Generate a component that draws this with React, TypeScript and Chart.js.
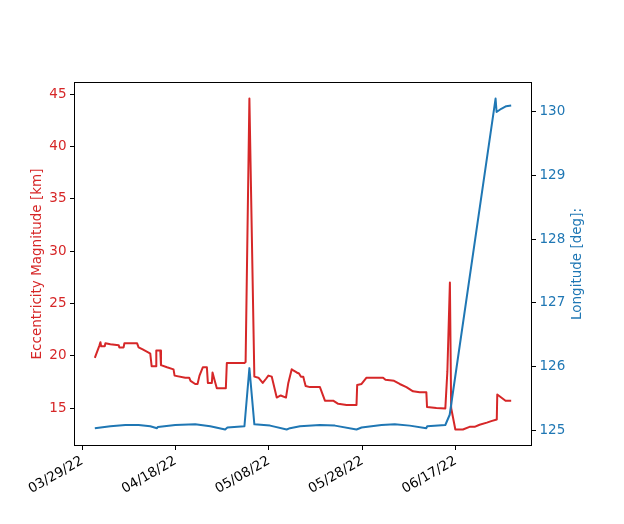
import React, { useEffect, useRef } from 'react';
import { Chart, registerables } from 'chart.js';

Chart.register(...registerables);
Chart.defaults.font.family = 'DejaVu Sans';

// eccentricity magnitude [km] (left axis)
const eccTimes = [
  '2022-03-31T17:00Z', '2022-04-01T17:00Z', '2022-04-01T22:00Z', '2022-04-02T01:30Z', '2022-04-02T20:00Z',
  '2022-04-02T23:30Z', '2022-04-04T01:00Z', '2022-04-05T20:00Z', '2022-04-05T23:00Z', '2022-04-06T21:00Z',
  '2022-04-07T01:00Z', '2022-04-09T18:00Z', '2022-04-10T02:00Z', '2022-04-10T23:00Z', '2022-04-12T05:30Z',
  '2022-04-12T14:00Z', '2022-04-12T21:00Z', '2022-04-13T19:30Z', '2022-04-13T21:00Z', '2022-04-14T17:30Z',
  '2022-04-14T21:00Z', '2022-04-16T04:00Z', '2022-04-17T13:30Z', '2022-04-17T19:00Z', '2022-04-20T02:00Z',
  '2022-04-20T22:00Z', '2022-04-21T05:00Z', '2022-04-22T05:00Z', '2022-04-22T17:00Z', '2022-04-23T03:00Z',
  '2022-04-23T20:30Z', '2022-04-24T17:00Z', '2022-04-24T22:00Z', '2022-04-25T18:30Z', '2022-04-25T22:00Z',
  '2022-04-26T06:30Z', '2022-04-26T20:00Z', '2022-04-28T18:30Z', '2022-04-28T23:30Z', '2022-05-02T18:00Z',
  '2022-05-03T00:00Z', '2022-05-03T19:30Z', '2022-05-04T21:00Z', '2022-05-05T18:00Z', '2022-05-06T16:00Z',
  '2022-05-07T09:00Z', '2022-05-07T21:00Z', '2022-05-08T14:30Z', '2022-05-09T16:00Z', '2022-05-10T12:30Z',
  '2022-05-11T15:30Z', '2022-05-12T03:30Z', '2022-05-12T21:00Z', '2022-05-13T05:00Z', '2022-05-13T22:30Z',
  '2022-05-14T10:30Z', '2022-05-14T20:30Z', '2022-05-15T08:30Z', '2022-05-15T13:30Z', '2022-05-15T20:30Z',
  '2022-05-16T18:30Z', '2022-05-18T22:00Z', '2022-05-19T23:45Z', '2022-05-21T18:00Z', '2022-05-22T20:00Z',
  '2022-05-24T15:00Z', '2022-05-26T18:00Z', '2022-05-26T21:30Z', '2022-05-27T20:00Z', '2022-05-28T21:30Z',
  '2022-06-01T10:30Z', '2022-06-01T23:00Z', '2022-06-03T19:00Z', '2022-06-05T00:00Z', '2022-06-06T10:30Z',
  '2022-06-07T20:30Z', '2022-06-09T07:00Z', '2022-06-10T17:00Z', '2022-06-10T20:30Z', '2022-06-12T20:30Z',
  '2022-06-14T18:30Z', '2022-06-15T05:00Z', '2022-06-15T18:00Z', '2022-06-16T00:30Z', '2022-06-16T22:00Z',
  '2022-06-18T13:00Z', '2022-06-19T23:00Z', '2022-06-21T01:00Z', '2022-06-22T02:30Z', '2022-06-23T16:00Z',
  '2022-06-24T14:30Z', '2022-06-25T19:00Z', '2022-06-25T21:30Z', '2022-06-27T16:00Z', '2022-06-28T21:00Z',
];
const eccValues = [
  19.8, 21.0, 21.3, 20.9, 20.9,
  21.2, 21.1, 21.0, 20.8, 20.8,
  21.2, 21.2, 20.8, 20.6, 20.3,
  20.2, 19.0, 19.0, 20.5, 20.5,
  19.1, 18.9, 18.7, 18.1, 17.9,
  17.9, 17.6, 17.3, 17.3, 18.1,
  18.9, 18.9, 17.4, 17.4, 18.4,
  17.8, 16.9, 16.9, 19.3, 19.3,
  19.4, 44.6, 18.0, 17.9, 17.4,
  17.8, 18.1, 18.0, 16.0, 16.2,
  16.0, 17.4, 18.7, 18.6, 18.4,
  18.3, 18.0, 18.0, 17.6, 17.1,
  17.0, 17.0, 15.7, 15.7, 15.4,
  15.3, 15.3, 17.2, 17.3, 17.9,
  17.9, 17.7, 17.6, 17.3, 17.0,
  16.6, 16.5, 16.5, 15.1, 15.0,
  14.95, 18.5, 27.0, 15.0, 12.95,
  12.95, 13.2, 13.2, 13.4, 13.6,
  13.75, 13.9, 16.3, 15.7, 15.7,
];

// longitude [deg] (right axis)
const lonTimes = [
  '2022-03-31T17:00Z', '2022-04-04T01:00Z', '2022-04-07T06:00Z', '2022-04-10T02:00Z', '2022-04-12T14:00Z',
  '2022-04-14T00:30Z', '2022-04-14T05:00Z', '2022-04-17T22:30Z', '2022-04-22T05:00Z', '2022-04-25T10:00Z',
  '2022-04-28T15:00Z', '2022-04-29T02:30Z', '2022-05-02T18:00Z', '2022-05-03T19:30Z', '2022-05-04T21:00Z',
  '2022-05-08T06:00Z', '2022-05-11T19:00Z', '2022-05-12T12:00Z', '2022-05-14T15:30Z', '2022-05-18T22:00Z',
  '2022-05-22T03:00Z', '2022-05-26T18:00Z', '2022-05-27T20:00Z', '2022-06-01T02:30Z', '2022-06-03T22:30Z',
  '2022-06-07T03:30Z', '2022-06-10T17:00Z', '2022-06-10T21:30Z', '2022-06-14T18:30Z', '2022-06-15T17:00Z',
  '2022-06-25T12:45Z', '2022-06-25T18:00Z', '2022-06-26T18:00Z', '2022-06-27T19:30Z', '2022-06-28T21:00Z',
];
const lonValues = [
  125.04, 125.07, 125.09, 125.09, 125.07,
  125.04, 125.06, 125.09, 125.1, 125.07,
  125.02, 125.05, 125.07, 125.98, 125.1,
  125.08, 125.02, 125.04, 125.07, 125.09,
  125.08, 125.02, 125.05, 125.09, 125.1,
  125.08, 125.04, 125.07, 125.09, 125.25,
  130.2, 129.99, 130.04, 130.08, 130.09,
];

const dateTicks = ['2022-03-29', '2022-04-18', '2022-05-08', '2022-05-28', '2022-06-17'];
const eccTicks = [15, 20, 25, 30, 35, 40, 45];
const lonTicks = [125, 126, 127, 128, 129, 130];

const RED = '#d62728';
const BLUE = '#1f77b4';

// matplotlib-like 5% margins
const limits = (vals: number[]) => {
  const lo = Math.min(...vals);
  const hi = Math.max(...vals);
  const m = (hi - lo) * 0.05;
  return [lo - m, hi + m];
};

const fmtDate = (v: number) => {
  const d = new Date(v);
  const p = (n: number) => String(n).padStart(2, '0');
  return `${p(d.getUTCMonth() + 1)}/${p(d.getUTCDate())}/${p(d.getUTCFullYear() % 100)}`;
};

const framePlugin = {
  id: 'frame',
  afterDatasetsDraw(chart: any) {
    const { ctx, chartArea: a } = chart;
    ctx.save();
    ctx.strokeStyle = '#000';
    ctx.lineWidth = 1;
    ctx.strokeRect(Math.round(a.left) + 0.5, Math.round(a.top) + 0.5,
      Math.round(a.right - a.left) - 1, Math.round(a.bottom - a.top) - 1);
    ctx.restore();
  },
};

const rightTitlePlugin = {
  id: 'rightTitle',
  afterDraw(chart: any) {
    const { ctx, chartArea: a } = chart;
    ctx.save();
    ctx.translate(577, (a.top + a.bottom) / 2);
    ctx.rotate(-Math.PI / 2);
    ctx.fillStyle = BLUE;
    ctx.font = '13.5px "DejaVu Sans"';
    ctx.textAlign = 'center';
    ctx.textBaseline = 'middle';
    ctx.fillText('Longitude [deg]:', 0, 0);
    ctx.restore();
  },
};

const App: React.FC = () => {
  const canvasRef = useRef<HTMLCanvasElement>(null);

  useEffect(() => {
    document.body.style.margin = '0';
    const ctx = canvasRef.current?.getContext('2d');
    if (!ctx) return;

    const ecc = eccTimes.map((t, i) => ({ x: Date.parse(t), y: eccValues[i] }));
    const lon = lonTimes.map((t, i) => ({ x: Date.parse(t), y: lonValues[i] }));
    const [xMin, xMax] = limits([...ecc, ...lon].map((p) => p.x));
    const [eMin, eMax] = limits(eccValues);
    const [lMin, lMax] = limits(lonValues);

    const tickGrid = { drawOnChartArea: false, drawTicks: true, tickLength: 4, tickWidth: 1, tickColor: '#000', color: '#000' };
    const lineStyle = { borderWidth: 2, pointRadius: 0, tension: 0, fill: false, borderJoinStyle: 'round' as const };

    const chart = new Chart(ctx, {
      type: 'line',
      data: {
        datasets: [
          { data: lon, yAxisID: 'y1', borderColor: BLUE, order: 0, ...lineStyle },
          { data: ecc, yAxisID: 'y', borderColor: RED, order: 1, ...lineStyle },
        ],
      },
      options: {
        animation: false,
        responsive: false,
        events: [],
        layout: { padding: { top: 82, left: 0, right: 0, bottom: 0 } },
        plugins: { legend: { display: false }, tooltip: { enabled: false } },
        scales: {
          x: {
            type: 'linear',
            min: xMin,
            max: xMax,
            grid: tickGrid,
            border: { display: false },
            afterFit: (s: any) => { s.height = 78; },
            afterBuildTicks: (s: any) => { s.ticks = dateTicks.map((d) => ({ value: Date.parse(d) })); },
            ticks: {
              autoSkip: false,
              minRotation: 30,
              maxRotation: 30,
              padding: 3,
              color: '#000',
              font: { size: 13.5 },
              callback: (v: any) => fmtDate(Number(v)),
            },
          },
          y: {
            position: 'left',
            min: eMin,
            max: eMax,
            grid: tickGrid,
            border: { display: false },
            afterFit: (s: any) => { s.width = 74; },
            afterBuildTicks: (s: any) => { s.ticks = eccTicks.map((v) => ({ value: v })); },
            ticks: { color: RED, padding: 3.5, font: { size: 13.5 } },
            title: {
              display: true,
              text: 'Eccentricity Magnitude [km]',
              color: RED,
              font: { size: 13.5 },
              padding: { top: 29, bottom: 0 },
            },
          },
          y1: {
            position: 'right',
            min: lMin,
            max: lMax,
            grid: tickGrid,
            border: { display: false },
            afterFit: (s: any) => { s.width = 92; },
            afterBuildTicks: (s: any) => { s.ticks = lonTicks.map((v) => ({ value: v })); },
            ticks: { color: BLUE, padding: 3.5, font: { size: 13.5 } },
          },
        },
      },
      plugins: [framePlugin, rightTitlePlugin],
    });

    return () => {
      chart.destroy();
    };
  }, []);

  return <canvas ref={canvasRef} width={624} height={524} style={{ display: 'block' }}></canvas>;
};

export default App;
